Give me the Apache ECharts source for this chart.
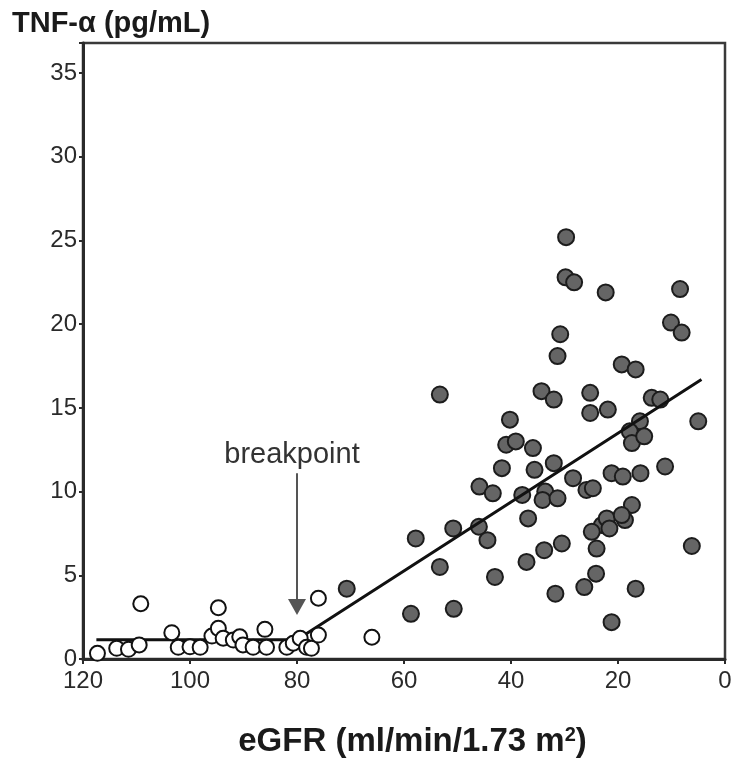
<!DOCTYPE html>
<html>
<head>
<meta charset="utf-8">
<script src="https://cdn.jsdelivr.net/npm/echarts@6/dist/echarts.min.js"></script>
<style>
html,body{margin:0;padding:0;background:#fff;}
#chart{width:740px;height:758px;}
</style>
</head>
<body>
<div id="chart"></div>
<script>
// Filled circles (eGFR < 80)
const egfrFilled = [29.7,29.8,28.2,22.3,8.4,10.1,8.1,30.8,31.3,19.3,16.7,53.3,34.3,32.0,25.2,13.7,12.1,25.2,21.9,5.0,40.2,15.9,40.9,39.1,35.9,17.8,17.4,15.1,41.7,35.6,32.0,28.4,25.9,24.7,21.2,19.1,15.8,11.2,45.9,43.4,37.9,33.6,34.1,31.3,36.8,50.8,46.0,44.4,57.8,23.0,22.1,24.9,17.4,18.7,24.0,30.5,33.8,37.1,53.3,43.0,6.2,24.1,26.3,16.7,31.7,58.7,50.7,21.2,70.7,21.6,19.3];
const tnfFilled  = [25.2,22.8,22.5,21.9,22.1,20.1,19.5,19.4,18.1,17.6,17.3,15.8,16.0,15.5,15.9,15.6,15.5,14.7,14.9,14.2,14.3,14.2,12.8,13.0,12.6,13.6,12.9,13.3,11.4,11.3,11.7,10.8,10.1,10.2,11.1,10.9,11.1,11.5,10.3,9.9,9.8,10.0,9.5,9.6,8.4,7.8,7.9,7.1,7.2,8.0,8.4,7.6,9.2,8.3,6.6,6.9,6.5,5.8,5.5,4.9,6.75,5.1,4.3,4.2,3.9,2.7,3.0,2.2,4.2,7.8,8.6];
// Open circles (eGFR >= ~66)
const egfrOpen = [117.3,113.7,111.5,109.5,109.2,103.4,102.2,100.0,98.1,95.9,94.7,94.7,93.8,91.9,90.7,90.1,88.2,86.0,85.7,81.9,80.7,79.4,78.2,77.3,76.0,76.0,66.0];
const tnfOpen  = [0.34,0.64,0.58,0.84,3.3,1.57,0.70,0.73,0.70,1.37,1.83,3.06,1.24,1.13,1.33,0.84,0.70,1.77,0.70,0.70,0.94,1.24,0.70,0.64,1.43,3.63,1.3];
// Piecewise regression
const fitX = [117.5, 80, 4.4];
const fitY = [1.15, 1.15, 16.7];
// Breakpoint arrow (data coords)
const breakpointX = 80;
const arrowFromY = 11.1;
const arrowToY = 3.1;
// Axes
const xTickInterval = 20;
const yTickInterval = 5;

const zip = (a,b) => a.map((v,i)=>[v,b[i]]);
const FONT = "'Liberation Sans', Arial, sans-serif";

const chart = echarts.init(document.getElementById('chart'), null, {renderer:'canvas'});
chart.setOption({
  animation: false,
  backgroundColor: '#fff',
  title: {
    text: 'TNF-α (pg/mL)',
    left: 12, top: 9, padding: 0,
    textStyle: {fontFamily: FONT, fontSize: 29, fontWeight: 'bold', color: '#1a1a1a'}
  },
  grid: {left: 83, right: 15, top: 43, bottom: 99, containLabel: false, outerBoundsMode: 'none',
    show: true, borderColor: '#3a3a3a', borderWidth: 2.5, backgroundColor: 'transparent'},
  xAxis: {
    type: 'value', min: 0, max: 120, interval: xTickInterval, inverse: true,
    axisLine: {show: true, onZero: false, lineStyle: {color: '#2a2a2a', width: 3}},
    axisTick: {show: true, length: 5, lineStyle: {color: '#2a2a2a', width: 2}},
    axisLabel: {fontFamily: FONT, fontSize: 24, color: '#2a2a2a', margin: 10},
    splitLine: {show: false},
    name: '{a|eGFR (ml/min/1.73 m}{s|2}{a|)}',
    nameLocation: 'middle', nameGap: 66,
    nameTextStyle: {
      padding: [0,0,0,17],
      rich: {
        a: {fontFamily: FONT, fontSize: 33, fontWeight: 'bold', color: '#1a1a1a'},
        s: {fontFamily: FONT, fontSize: 20, fontWeight: 'bold', color: '#1a1a1a', verticalAlign: 'bottom', padding: [0,0,14,0]}
      }
    }
  },
  yAxis: {
    type: 'value', min: 0, max: 36.8, interval: yTickInterval,
    axisLine: {show: true, onZero: false, lineStyle: {color: '#2a2a2a', width: 3}},
    axisTick: {show: true, length: 4, lineStyle: {color: '#2a2a2a', width: 2}},
    axisLabel: {fontFamily: FONT, fontSize: 24, color: '#2a2a2a', margin: 6,
      formatter: v => (v % 5 === 0 ? String(v) : '')},
    splitLine: {show: false}
  },
  series: [
    {
      type: 'scatter', z: 2,
      data: zip(egfrFilled, tnfFilled),
      symbol: 'circle', symbolSize: 16,
      itemStyle: {color: '#656565', borderColor: '#1c1c1c', borderWidth: 2, opacity: 1}
    },
    {
      type: 'line', z: 3,
      data: zip(fitX, fitY),
      showSymbol: false, symbol: 'none',
      lineStyle: {color: '#111', width: 3},
      markLine: {
        silent: true, animation: false,
        symbol: ['none', 'triangle'], symbolSize: [18, 16],
        itemStyle: {color: '#1a1a1a'},
        lineStyle: {color: '#555', width: 2, type: 'solid'},
        label: {show: true, position: 'start', formatter: 'breakpoint', fontFamily: FONT, fontSize: 29, color: '#333', distance: 4, padding: [0,10,0,0]},
        data: [[{coord: [breakpointX, arrowFromY]}, {coord: [breakpointX, arrowToY], symbol: 'triangle', itemStyle: {color: '#111'}}]]
      }
    },
    {
      type: 'scatter', z: 4,
      data: zip(egfrOpen, tnfOpen),
      symbol: 'circle', symbolSize: 15,
      itemStyle: {color: '#fff', borderColor: '#111', borderWidth: 2, opacity: 1}
    }
  ]
});
</script>
</body>
</html>
